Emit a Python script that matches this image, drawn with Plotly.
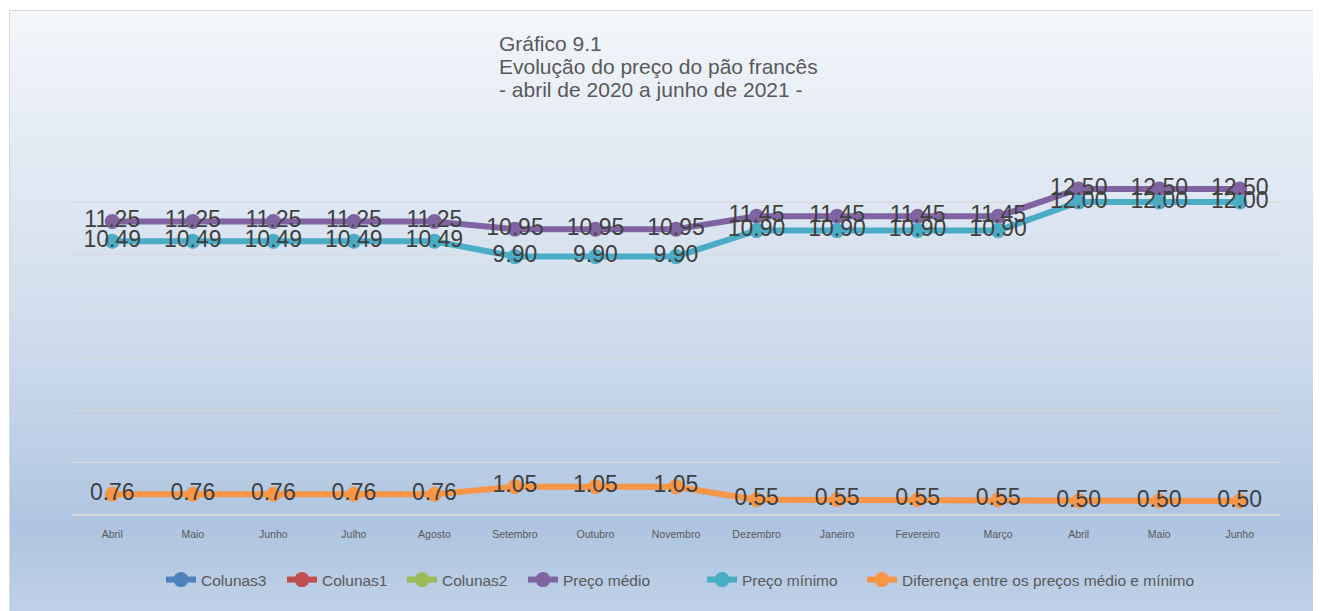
import plotly.graph_objects as go

# ---------------- data ----------------
meses = ["Abril", "Maio", "Junho", "Julho", "Agosto", "Setembro", "Outubro",
         "Novembro", "Dezembro", "Janeiro", "Fevereiro", "Março", "Abril",
         "Maio", "Junho"]
preco_medio = [11.25, 11.25, 11.25, 11.25, 11.25, 10.95, 10.95, 10.95,
               11.45, 11.45, 11.45, 11.45, 12.50, 12.50, 12.50]
preco_minimo = [10.49, 10.49, 10.49, 10.49, 10.49, 9.90, 9.90, 9.90,
                10.90, 10.90, 10.90, 10.90, 12.00, 12.00, 12.00]
diferenca = [0.76, 0.76, 0.76, 0.76, 0.76, 1.05, 1.05, 1.05,
             0.55, 0.55, 0.55, 0.55, 0.50, 0.50, 0.50]
colunas3 = []
colunas1 = []
colunas2 = []
titulo = ["Gráfico 9.1", "Evolução do preço do pão francês",
          "- abril de 2020 a junho de 2021 -"]

xs = list(range(len(meses)))

OFF = 8  # page body margin
W, H = 1313, 603
# plot area in screen pixels: x 72..1280, y 150..514
ML, MT = 72 - OFF, 150 - OFF
MR, MB = W - (1280 - OFF), H - (514 - OFF)
PW, PH = W - ML - MR, H - MT - MB

FONT = "Liberation Sans, Arial, sans-serif"

def px_x(X):  # screen px -> paper
    return (X - OFF - ML) / PW

def px_y(Y):
    return (H - MB - (Y - OFF)) / PH

def hex2rgb(h):
    h = h.lstrip("#")
    return tuple(int(h[i:i + 2], 16) for i in (0, 2, 4))

stops = [(10, "#F4F7FB"), (150, "#E3EAF4"), (300, "#D3DFEE"),
         (450, "#BCCFE6"), (525, "#AEC4E0"), (611, "#BFD1E8")]

def color_at(Y):
    for (y0, c0), (y1, c1) in zip(stops[:-1], stops[1:]):
        if y0 <= Y <= y1:
            t = (Y - y0) / (y1 - y0)
            a, b = hex2rgb(c0), hex2rgb(c1)
            r = [round(a[k] + (b[k] - a[k]) * t) for k in range(3)]
            return "rgb(%d,%d,%d)" % tuple(r)
    return stops[-1][1]

shapes = []
step = 4
Y = 10
while Y < 612:
    Y2 = Y + step
    shapes.append(dict(type="rect", xref="paper", yref="paper",
                       x0=px_x(10), x1=px_x(1330), y0=px_y(Y2 + 0.5), y1=px_y(Y),
                       fillcolor=color_at(Y + step / 2), line=dict(width=0),
                       layer="below"))
    Y += step
# border
shapes.append(dict(type="rect", xref="paper", yref="paper",
                   x0=px_x(9.5), x1=px_x(1335), y0=px_y(620), y1=px_y(10.5),
                   fillcolor="rgba(0,0,0,0)", line=dict(color="#D9D9D9", width=1),
                   layer="below"))

fig = go.Figure()

series = [
    ("Colunas3", colunas3, "#4F81BD"),
    ("Colunas1", colunas1, "#C0504D"),
    ("Colunas2", colunas2, "#9BBB59"),
    ("Preço médio", preco_medio, "#8064A2"),
    ("Preço mínimo", preco_minimo, "#4BACC6"),
    ("Diferença entre os preços médio e mínimo", diferenca, "#F79646"),
]
legend_marker_x = [181, 302, 422, 543, 722, 882]  # screen px of legend symbols
legend_names = ["legend", "legend2", "legend3", "legend4", "legend5", "legend6"]

for (name, vals, col), lg in zip(series, legend_names):
    fig.add_trace(go.Scatter(
        x=xs[:len(vals)] if vals else [None], y=vals if vals else [None],
        name=name, mode="lines+markers", legend=lg,
        line=dict(color=col, width=6),
        marker=dict(color=col, size=15),
        hoverinfo="skip"))

for name, vals, col in series:
    if not vals:
        continue
    fig.add_trace(go.Scatter(
        x=xs, y=vals, mode="text", showlegend=False,
        text=["%.2f" % v for v in vals], textposition="middle center",
        textfont=dict(family=FONT, size=23, color="#404040"),
        hoverinfo="skip"))

title_y = [44, 67, 90]
for line, ty in zip(titulo, title_y):
    fig.add_annotation(
        xref="paper", yref="paper", x=px_x(497), y=px_y(ty),
        xanchor="left", yanchor="middle", align="left", showarrow=False,
        text=line, font=dict(family=FONT, size=21, color="#595959"))

legend_common = dict(orientation="h", yanchor="middle", xanchor="left",
                     font=dict(family=FONT, size=15.5, color="#595959"),
                     bgcolor="rgba(0,0,0,0)", borderwidth=0)
legends = {}
for lg, mx in zip(legend_names, legend_marker_x):
    legends[lg] = dict(legend_common, x=px_x(mx - 20), y=px_y(580))

fig.update_layout(
    width=W, height=H,
    margin=dict(l=ML, r=MR, t=MT, b=MB),
    paper_bgcolor="white", plot_bgcolor="rgba(0,0,0,0)",
    shapes=shapes,
    showlegend=True,
    xaxis=dict(range=[-0.5, len(meses) - 0.5], tickvals=xs, ticktext=meses,
               tickfont=dict(family=FONT, size=10.5, color="#595959"),
               showgrid=False, zeroline=False, showline=True,
               linecolor="#D9D9D9", linewidth=2,
               ticks="outside", ticklen=9, tickcolor="rgba(0,0,0,0)"),
    yaxis=dict(range=[0, 14], dtick=2, showgrid=True, gridcolor="#D9D9D9",
               gridwidth=1, showticklabels=False, zeroline=False,
               showline=False),
    **legends,
)

fig.write_html("out.html")
